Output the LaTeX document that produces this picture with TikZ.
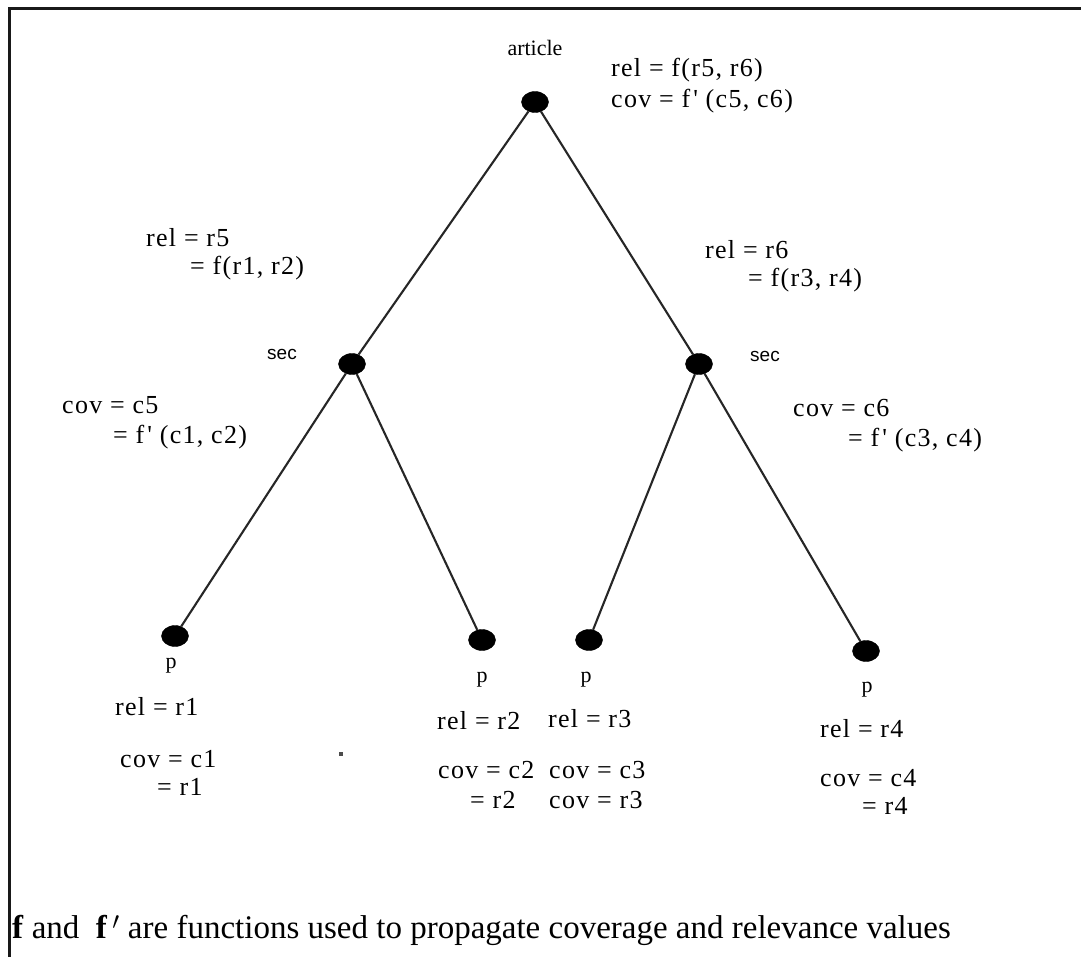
\documentclass[tikz,border=0pt]{standalone}
\usepackage{fontspec}
\setmainfont{Liberation Serif}
\newfontfamily\sansf{Liberation Sans}
\newfontfamily\plainf[LetterSpace=5]{Liberation Serif}
\usetikzlibrary{shapes.geometric}
\tikzset{
  dot/.style={ellipse,fill=black,draw=black,minimum width=27pt,minimum height=21pt,inner sep=0pt},
  edge/.style={line width=2.1pt,draw=black!85},
  lbl/.style={anchor=west,inner sep=0pt,font=\plainf\fontsize{26}{30}\selectfont},
  nm/.style={inner sep=0pt,font=\fontsize{22}{26}\selectfont},
  snm/.style={inner sep=0pt,font=\sansf\fontsize{19}{23}\selectfont},
  frame/.style={line width=3pt,draw=black!90}
}
\newcommand{\fpr}{f\kern3pt'}
\begin{document}
\begin{tikzpicture}[x=1pt,y=-1pt]
\useasboundingbox (0,0) rectangle (1081,957);
\fill[white] (0,0) rectangle (1081,957);
% frame
\coordinate (fl) at (1081,9);
\coordinate (tl) at (9,9);
\coordinate (bl) at (9,957);
\draw[frame] (fl) -- (tl) -- (bl);
% nodes
\node[dot] (a) at (535,102) {};
\node[dot] (s1) at (352,364) {};
\node[dot] (s2) at (699,364) {};
\node[dot] (p1) at (175,636) {};
\node[dot] (p2) at (482,640) {};
\node[dot] (p3) at (589,640) {};
\node[dot] (p4) at (866,651) {};
% edges
\draw[edge] (a) -- (s1);
\draw[edge] (a) -- (s2);
\draw[edge] (s1) -- (p1);
\draw[edge] (s1) -- (p2);
\draw[edge] (s2) -- (p3);
\draw[edge] (s2) -- (p4);
% names
\node[nm] (ta) at (535,48) {article};
\node[snm] (ts1) at (282,354) {sec};
\node[snm] (ts2) at (765,356) {sec};
\node[nm] (tp1) at (171,666) {p};
\node[nm] (tp2) at (482,680) {p};
\node[nm] (tp3) at (586,680) {p};
\node[nm] (tp4) at (867,690) {p};
% labels
\node[lbl] (l1) at (611,70) {rel = f(r5, r6)};
\node[lbl] (l2) at (611,101) {cov = \fpr{} (c5, c6)};
\node[lbl] (l3) at (146,238) {rel = r5};
\node[lbl] (l4) at (190,268) {= f(r1, r2)};
\node[lbl] (l5) at (705,250) {rel = r6};
\node[lbl] (l6) at (748,280) {= f(r3, r4)};
\node[lbl] (l7) at (62,405) {cov = c5};
\node[lbl] (l8) at (113,437) {= \fpr{} (c1, c2)};
\node[lbl] (l9) at (793,408) {cov = c6};
\node[lbl] (l10) at (848,440) {= \fpr{} (c3, c4)};
\node[lbl] (l11) at (115,707) {rel = r1};
\node[lbl] (l12) at (120,759) {cov = c1};
\node[lbl] (l13) at (157,787) {= r1};
\node[lbl] (l14) at (437,721) {rel = r2};
\node[lbl] (l15) at (438,770) {cov = c2};
\node[lbl] (l16) at (470,800) {= r2};
\node[lbl] (l17) at (548,719) {rel = r3};
\node[lbl] (l18) at (549,770) {cov = c3};
\node[lbl] (l19) at (549,800) {cov = r3};
\node[lbl] (l20) at (820,729) {rel = r4};
\node[lbl] (l21) at (820,778) {cov = c4};
\node[lbl] (l22) at (862,806) {= r4};
\fill[black!70] (339,752) rectangle (343,756);
% caption
\node[anchor=west,inner sep=0pt,font=\fontsize{33}{38}\selectfont] (cap) at (12,930) {\textbf{f} and \ \textbf{f\,$'$} are functions used to propagate coverage and relevance values};
\end{tikzpicture}
\end{document}
